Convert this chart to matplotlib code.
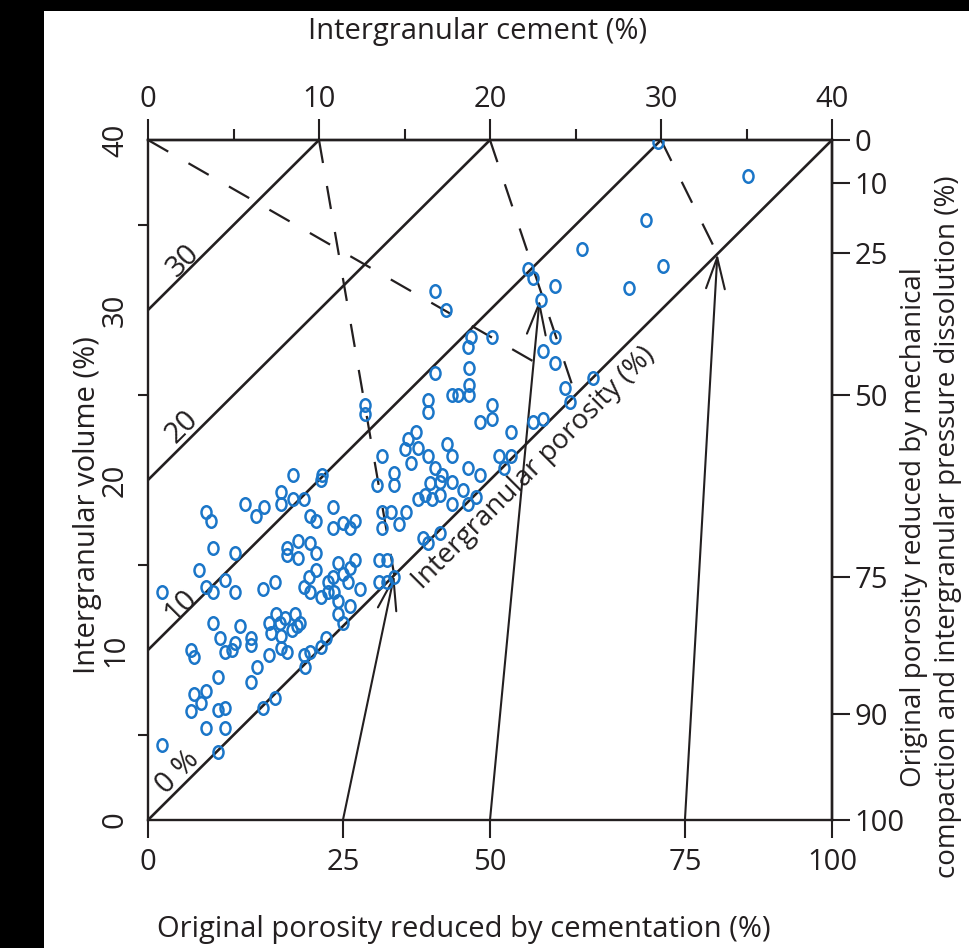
import numpy as np
import matplotlib.pyplot as plt
from matplotlib.patches import Rectangle
from matplotlib.path import Path
from matplotlib.transforms import Affine2D

plt.rcParams['font.family'] = ['Open Sans', 'DejaVu Sans']

# original porosity used for the compaction scale (%)
orig_porosity = 40

# samples: intergranular cement (%) vs intergranular volume (%)
cement = [29.8, 35.1, 29.1, 25.4, 30.1, 28.1, 22.2, 22.5, 23.8, 23.0,
          20.1, 23.8, 23.1, 23.8, 24.4, 24.7, 26.0, 16.8, 17.4, 18.9,
          18.7, 18.8, 18.8, 18.8, 17.8, 18.1, 16.8, 16.4, 16.4, 12.7,
          12.7, 20.1, 20.1, 19.4, 21.2, 22.5, 23.1, 15.2, 15.7, 15.8,
          15.0, 17.5, 17.8, 16.4, 13.7, 15.4, 16.8, 17.2, 18.7, 19.4,
          17.8, 20.5, 21.2, 20.8, 14.4, 14.4, 13.4, 10.2, 8.5, 18.4,
          19.2, 15.8, 16.2, 16.6, 17.1, 17.8, 18.7, 16.5, 17.1,
          10.8, 10.8, 11.4, 11.8, 12.1, 13.7, 14.2, 13.7, 14.7, 15.1,
          16.1, 16.4, 17.1, 12.1, 11.1, 13.5, 14.0, 10.8, 11.4, 11.8,
          10.5, 11.7, 10.5, 10.9, 12.4, 13.5, 14.0, 14.4, 11.1, 11.8,
          10.1, 11.1, 11.4,
          3.4, 3.7, 5.7, 6.3, 6.8, 7.8, 7.8, 8.5, 9.1, 10.1,
          9.5, 9.8, 3.8, 5.1, 8.1, 8.1, 8.8, 9.5, 8.8, 9.8,
          3.0, 4.5, 3.4, 3.8, 5.1, 0.8, 6.7, 7.4, 9.8, 9.4,
          9.1, 9.5,
          3.8, 5.4, 7.1, 7.7, 8.7, 7.2, 7.8, 8.4, 7.8, 8.1,
          7.5, 8.0, 8.6, 8.9, 4.2, 4.5, 4.9, 5.1, 6.0, 6.0,
          2.5, 2.7, 7.1, 6.4, 9.1, 9.2, 9.5, 10.1, 10.4, 4.1,
          6.0, 2.7, 3.1, 3.4, 2.5, 4.1, 4.5, 3.4, 4.5, 6.7,
          7.4, 0.8, 4.1]
igv = [39.9, 37.9, 35.3, 33.6, 32.6, 31.3, 32.4, 31.9, 31.4, 30.6,
       28.4, 28.4, 27.6, 26.9, 25.4, 24.6, 26.0, 31.1, 30.0, 28.4,
       27.8, 26.6, 25.6, 25.0, 25.0, 25.0, 26.3, 24.7, 24.0, 24.4,
       23.9, 24.4, 23.6, 23.4, 22.8, 23.4, 23.6, 22.4, 22.8, 21.9,
       21.8, 22.1, 21.4, 21.4, 21.4, 21.0, 20.7, 20.3, 20.7, 20.3,
       19.9, 21.4, 21.4, 20.7, 20.4, 19.7, 19.7, 20.3, 20.3, 19.4,
       19.0, 18.9, 19.1, 18.9, 19.1, 18.6, 18.6, 19.8, 19.9,
       18.4, 17.2, 17.5, 17.2, 17.6, 18.1, 18.1, 17.2, 17.4, 18.1,
       16.6, 16.3, 16.9, 15.3, 15.1, 15.3, 15.3, 14.3, 14.5, 14.8,
       14.0, 14.0, 13.4, 13.4, 13.6, 14.0, 14.0, 14.3, 12.9, 12.6,
       13.1, 12.1, 11.6,
       18.1, 17.6, 18.6, 17.9, 18.4, 19.3, 18.6, 18.9, 18.9, 20.0,
       17.9, 17.6, 16.0, 15.7, 16.0, 15.6, 16.4, 16.3, 15.4, 15.7,
       14.7, 14.1, 13.7, 13.4, 13.4, 13.4, 13.6, 14.0, 14.7, 14.3,
       13.7, 13.4,
       11.6, 11.4, 11.6, 11.6, 11.4, 11.0, 10.8, 11.2, 10.1, 9.9,
       12.1, 11.9, 12.1, 11.6, 10.7, 9.9, 10.0, 10.4, 10.7, 10.3,
       10.0, 9.6, 9.7, 9.0, 9.7, 9.0, 9.9, 10.2, 10.7, 8.4,
       8.1, 7.4, 6.9, 7.6, 6.4, 6.5, 6.6, 5.4, 5.4, 6.6,
       7.2, 4.4, 4.0]

# intergranular porosity lines (IGV - cement)
porosity_levels = [0, 10, 20, 30]
porosity_text = ['0 %', '10', '20', '30']
porosity_text_x = [1.75, 1.9, 2.0, 2.05]
porosity_text_y = [2.8, 12.6, 23.1, 32.9]

# dashed paths (start cement, start IGV, end cement, end IGV)
dash_x0 = [0, 10, 20, 30]
dash_y0 = [40, 40, 40, 40]
dash_x1 = [22.5, 14.4, 25.0, 33.3]
dash_y1 = [27.0, 14.4, 25.0, 33.3]

# arrows from the cementation scale up to the diagram
arrow_x0 = [11.4, 20.0, 31.4]
arrow_x1 = [14.4, 22.9, 33.3]
arrow_y1 = [14.4, 30.6, 33.3]

bottom_pos = [0, 11.4, 20.0, 31.4, 40]
bottom_labels = ['0', '25', '50', '75', '100']
right_labels = [0, 10, 25, 50, 75, 90, 100]

ink = '#231f20'
blue = '#1b76c8'
fs = 21

fig = plt.figure(figsize=(9.7, 9.48), dpi=100)
fig.patch.set_facecolor('black')
fig.patches.append(Rectangle((44 / 970, 0), 926 / 970, 937 / 948,
                             transform=fig.transFigure, facecolor='white',
                             edgecolor='none', zorder=-10))

ax = fig.add_axes([148 / 970, 128 / 948, 684 / 970, 680 / 948])
ax.set_xlim(0, 40)
ax.set_ylim(0, 40)
ax.set_facecolor('white')
for s in ax.spines.values():
    s.set_linewidth(1.7)
    s.set_color(ink)

for k in porosity_levels:
    ax.plot([0, 40 - k], [k, 40], color=ink, lw=1.9, zorder=2)
for t, tx, ty in zip(porosity_text, porosity_text_x, porosity_text_y):
    ax.text(tx, ty, t, rotation=45, rotation_mode='anchor', ha='center',
            va='center', fontsize=fs, color=ink)
ax.text(22.6, 20.7, 'Intergranular porosity (%)', rotation=45,
        rotation_mode='anchor', ha='center', va='center', fontsize=fs - 1,
        color=ink)

for x0, y0, x1, y1 in zip(dash_x0, dash_y0, dash_x1, dash_y1):
    ax.plot([x0, x1], [y0, y1], color=ink, lw=1.6, dashes=(10.5, 10.5),
            zorder=2)

for x0, x1, y1 in zip(arrow_x0, arrow_x1, arrow_y1):
    ax.annotate('', xy=(x1, y1), xytext=(x0, 0),
                arrowprops=dict(arrowstyle='->,head_length=1.5,head_width=0.45',
                                color=ink, lw=1.5, shrinkA=0, shrinkB=0,
                                mutation_scale=15), zorder=3)

oval = Path.unit_circle().transformed(Affine2D().scale(0.8, 1.0))
ax.plot(cement, igv, linestyle='none', marker=oval, ms=9, mfc='none',
        mec=blue, mew=1.8, zorder=4)

# bottom: cementation scale
ax.set_xticks(bottom_pos)
ax.set_xticklabels(bottom_labels)
ax.tick_params(axis='x', direction='out', length=13, width=1.5, pad=7,
               labelsize=fs, colors=ink)

# left: intergranular volume
ax.set_yticks([0, 10, 20, 30, 40])
ax.set_yticks([5, 15, 25, 35], minor=True)
ax.tick_params(axis='y', which='major', direction='out', length=0, pad=13,
               labelsize=fs, labelrotation=90, colors=ink)
ax.tick_params(axis='y', which='minor', direction='out', length=7, width=1.5,
               colors=ink)
for lab in ax.get_yticklabels():
    lab.set_va('center')

# top: intergranular cement
top = ax.secondary_xaxis('top')
top.set_xticks([0, 10, 20, 30, 40])
top.set_xticks([5, 15, 25, 35], minor=True)
top.tick_params(which='major', direction='out', length=15, width=1.5, pad=4,
                labelsize=fs, colors=ink)
top.tick_params(which='minor', direction='out', length=8, width=1.5,
                colors=ink)
top.spines['top'].set_linewidth(1.7)

# right: compaction scale, IGV for a given share of porosity lost
c = np.array(right_labels) * orig_porosity / 100.0
right_pos = 100.0 * (orig_porosity - c) / (100.0 - c)
right = ax.secondary_yaxis('right')
right.set_yticks(right_pos)
right.set_yticklabels([str(v) for v in right_labels])
right.tick_params(direction='out', length=13, width=1.5, pad=3,
                  labelsize=fs, colors=ink)
right.spines['right'].set_linewidth(1.7)

fig.text(478 / 970, 1 - 32 / 948, 'Intergranular cement (%)', ha='center',
         va='center', fontsize=fs, color=ink)
fig.text(88 / 970, 1 - 505 / 948, 'Intergranular volume (%)', ha='center',
         va='center', rotation=90, fontsize=fs, color=ink)
fig.text(464 / 970, 1 - 929 / 948,
         'Original porosity reduced by cementation (%)', ha='center',
         va='center', fontsize=fs, color=ink)
fig.text(931 / 970, 1 - 527 / 948,
         'Original porosity reduced by mechanical\n'
         'compaction and intergranular pressure dissolution (%)',
         ha='center', va='center', rotation=90, fontsize=fs - 1, color=ink,
         linespacing=1.3)

fig.savefig('out.png', dpi=100, facecolor=fig.get_facecolor())
